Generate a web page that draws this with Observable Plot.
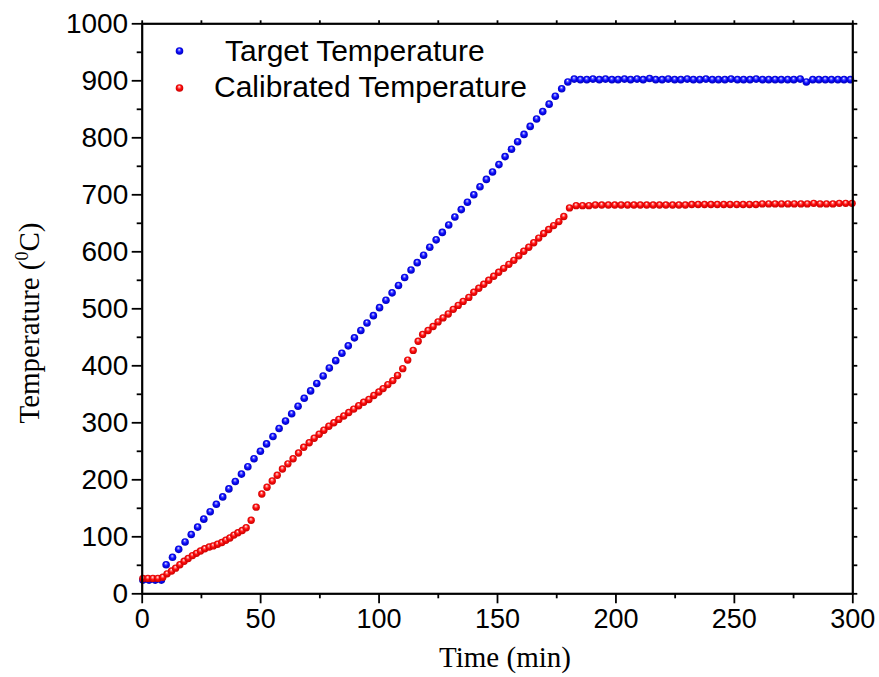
<!DOCTYPE html>
<html>
<head>
<meta charset="utf-8">
<script src="https://cdn.jsdelivr.net/npm/d3@7"></script>
<script src="https://cdn.jsdelivr.net/npm/@observablehq/plot@0.6"></script>
<style>
  html, body { margin: 0; padding: 0; background: #fff; }
  #chart svg { display: block; }
</style>
</head>
<body>
<div id="chart"></div>
<script>
// ---- Data ----
const targetTime = [0.3,2.9,5.5,8.1,
  10.1,12.8,15.4,18.1,20.7,23.4,26.0,28.7,31.3,34.0,
  36.6,39.3,41.9,44.6,47.2,49.9,52.5,55.2,57.8,60.5,
  63.1,65.8,68.4,71.1,73.7,76.4,79.0,81.7,84.3,87.0,
  89.6,92.3,94.9,97.6,100.2,102.9,105.5,108.2,110.8,113.5,
  116.1,118.8,121.4,124.1,126.7,129.4,132.0,134.7,137.3,140.0,
  142.6,145.3,147.9,150.6,153.2,155.9,158.5,161.2,163.8,166.5,
  169.1,171.8,174.4,177.1,179.7,182.4,185.0,187.7,190.3,193.0,
  195.6,198.3,200.9,203.6,206.2,208.9,211.5,214.2,216.8,219.5,
  222.1,224.8,227.4,230.1,232.7,235.4,238.0,240.7,243.3,246.0,
  248.6,251.3,253.9,256.6,259.2,261.9,264.5,267.2,269.8,272.5,
  275.1,277.8,280.4,283.1,285.7,288.4,291.0,293.7,296.3,299.0];
const targetTemp = [24,24,24,24,
  51,64,78,91,104,117,131,144,157,170,
  184,197,210,223,237,250,263,276,290,303,
  316,329,343,356,369,382,396,409,422,435,
  449,462,475,488,502,515,528,541,555,568,
  581,594,608,621,634,647,661,674,687,700,
  714,727,740,753,767,780,793,806,820,833,
  846,859,873,886,898,903,902,902,903,902,
  903,902,902,903,902,903,902,904,902,902,
  903,902,902,903,902,902,903,902,902,902,
  903,902,902,902,903,902,902,902,902,902,
  902,903,898,902,902,902,902,902,902,902];

const calibTime = [0.3,2.4,4.5,6.6,8.7,10.5,12.4,14.1,15.9,17.7,
  19.4,21.2,22.9,24.6,26.4,28.3,30.0,31.8,33.6,35.3,
  37.0,38.7,40.4,42.2,43.9,46.0,48.1,50.5,52.7,54.9,
  57.0,59.2,61.5,63.7,66.0,68.2,70.5,72.6,74.7,76.7,
  78.8,80.9,83.0,85.1,87.2,89.3,91.4,93.5,95.7,97.8,
  99.9,101.7,103.7,105.8,107.8,110.0,112.1,114.4,116.5,118.4,
  120.7,122.8,124.9,127.0,129.2,131.3,133.4,135.5,137.9,140.0,
  142.1,144.2,146.3,148.4,150.5,152.6,154.8,156.9,159.0,161.1,
  163.2,165.3,167.4,169.5,171.6,173.7,175.9,178.0,180.4,
  183.2,185.9,188.6,191.3,194.0,196.8,199.5,202.2,204.9,207.6,
  210.3,213.0,215.7,218.4,221.1,223.9,226.6,229.3,232.0,234.7,
  237.4,240.1,242.8,245.5,248.2,251.0,253.7,256.4,259.1,261.8,
  264.5,267.2,269.9,272.6,275.3,278.1,280.8,283.5,286.2,288.9,
  291.6,294.3,297.0,299.7];
const calibTemp = [27,27,27,27,29,35,40,45,51,57,
  62,67,71,75,79,82,84,87,90,94,
  98,103,107,111,116,129,152,175,187,198,
  208,219,228,237,247,257,265,273,280,287,
  294,300,306,312,318,324,330,336,341,348,
  354,360,367,374,383,395,410,427,443,455,
  462,469,477,484,491,499,506,513,520,529,
  536,543,550,557,564,571,578,585,593,601,
  608,616,624,632,639,646,653,662,677,
  681,681,681,682,682,682,682,682,682,682,
  682,682,682,682,682,682,682,682,683,683,
  683,683,683,683,683,683,683,683,683,684,
  684,684,684,684,684,684,684,685,684,684,
  684,685,685,685];

const xMajor = [0, 50, 100, 150, 200, 250, 300];
const xMinor = [25, 75, 125, 175, 225, 275];
const xAll = [0, 25, 50, 75, 100, 125, 150, 175, 200, 225, 250, 275, 300];
const yMajor = [0, 100, 200, 300, 400, 500, 600, 700, 800, 900, 1000];
const yMinor = [50, 150, 250, 350, 450, 550, 650, 750, 850, 950];
const yAll = [0, 50, 100, 150, 200, 250, 300, 350, 400, 450, 500, 550, 600, 650, 700, 750, 800, 850, 900, 950, 1000];

const seriesNames = ["Target Temperature", "Calibrated Temperature"];

const target = targetTime.map((t, i) => ({t, v: targetTemp[i]}));
const calib = calibTime.map((t, i) => ({t, v: calibTemp[i]}));

const noLabel = () => "";
const plain = d => String(d);
const tickW = 1.8;

const svg = Plot.plot({
  width: 879,
  height: 677,
  marginLeft: 141.7,
  marginRight: 26.7,
  marginTop: 23.3,
  marginBottom: 83.7,
  style: {fontFamily: "'Liberation Sans', Arial, sans-serif", color: "#000", background: "#fff"},
  x: {domain: [0, 300]},
  y: {domain: [0, 1000]},
  marks: [
    Plot.axisX({ticks: xMajor, tickSize: 10, tickPadding: 5, fontSize: 27, tickFormat: plain, label: null, strokeWidth: tickW}),
    Plot.axisX({ticks: xMinor, tickSize: 5, tickFormat: noLabel, label: null, strokeWidth: tickW}),
    Plot.axisX({anchor: "top", ticks: xAll, tickSize: 4, tickFormat: noLabel, label: null, strokeWidth: tickW}),
    Plot.axisY({ticks: yMajor, tickSize: 10, tickPadding: 4, fontSize: 28, tickFormat: plain, label: null, strokeWidth: tickW}),
    Plot.axisY({ticks: yMinor, tickSize: 5, tickFormat: noLabel, label: null, strokeWidth: tickW}),
    Plot.axisY({anchor: "right", ticks: yAll, tickSize: 4, tickFormat: noLabel, label: null, strokeWidth: tickW}),
    Plot.dot(target, {x: "t", y: "v", r: 3.8, fill: "url(#ballBlue)", stroke: "none"}),
    Plot.dot(calib, {x: "t", y: "v", r: 3.7, fill: "url(#ballRed)", stroke: "none"}),
    Plot.frame({stroke: "#000", strokeWidth: 2.2})
  ]
});

const s = d3.select(svg);
const defs = s.insert("defs", ":first-child");
function ball(id, light, mid, dark) {
  const g = defs.append("radialGradient").attr("id", id)
    .attr("cx", "50%").attr("cy", "50%").attr("r", "55%")
    .attr("fx", "45%").attr("fy", "30%");
  g.append("stop").attr("offset", "0%").attr("stop-color", "#ffffff");
  g.append("stop").attr("offset", "20%").attr("stop-color", light);
  g.append("stop").attr("offset", "50%").attr("stop-color", mid);
  g.append("stop").attr("offset", "100%").attr("stop-color", dark);
}
ball("ballBlue", "#7a7aff", "#0c0cff", "#0000b0");
ball("ballRed", "#ff8a8a", "#ff0c0c", "#c00000");

// axis titles
s.append("text")
  .attr("x", 505).attr("y", 667)
  .attr("text-anchor", "middle")
  .attr("font-family", "'Liberation Serif', 'Times New Roman', serif")
  .attr("font-size", 29)
  .attr("fill", "#000")
  .text("Time (min)");

const yt = s.append("text")
  .attr("transform", "translate(39,323) rotate(-90)")
  .attr("text-anchor", "middle")
  .attr("font-family", "'Liberation Serif', 'Times New Roman', serif")
  .attr("font-size", 29)
  .attr("fill", "#000");
yt.append("tspan").text("Temperature (");
yt.append("tspan").attr("font-size", 18).attr("dy", -11).text("0");
yt.append("tspan").attr("dy", 11).text("C)");

// legend
const legend = s.append("g");
const items = [
  {name: seriesNames[0], grad: "ballBlue", cy: 51, tx: 225, ty: 61},
  {name: seriesNames[1], grad: "ballRed", cy: 88, tx: 214, ty: 97}
];
items.forEach(d => {
  legend.append("circle").attr("cx", 179.5).attr("cy", d.cy).attr("r", 3.8).attr("fill", `url(#${d.grad})`);
  legend.append("text").attr("x", d.tx).attr("y", d.ty)
    .attr("text-anchor", "start")
    .attr("font-family", "'Liberation Sans', Arial, sans-serif")
    .attr("font-size", 30).attr("fill", "#000").text(d.name);
});

document.getElementById("chart").appendChild(svg);
</script>
</body>
</html>
